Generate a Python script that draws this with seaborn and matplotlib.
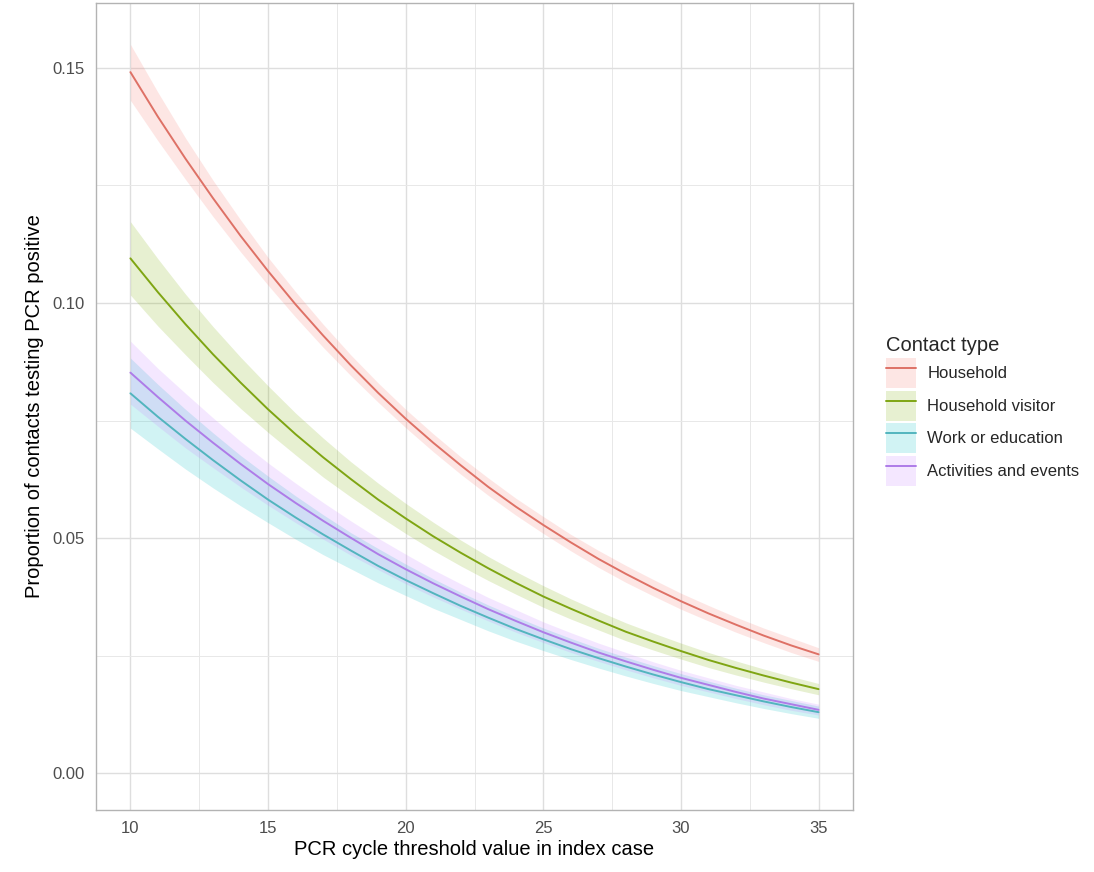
import pandas as pd
import seaborn as sns
import matplotlib.pyplot as plt
from matplotlib.patches import Patch
from matplotlib.lines import Line2D
from matplotlib.ticker import MultipleLocator

# PCR Ct value in index case
ct = list(range(10, 36))

contact_types = ["Household", "Household visitor", "Work or education", "Activities and events"]
fill_colors = ["#F8766D", "#7CAE00", "#00BFC4", "#C77CFF"]
line_colors = ["#DE7166", "#7FA513", "#52B5BE", "#AE7CE8"]

# fitted proportion and 95% band
household = [0.1491, 0.1396, 0.1307, 0.1223, 0.1143, 0.1068, 0.0997, 0.0931, 0.0868, 0.0809, 0.0754, 0.0703, 0.0655,
             0.0609, 0.0567, 0.0528, 0.0491, 0.0456, 0.0424, 0.0394, 0.0366, 0.0340, 0.0316, 0.0293, 0.0272, 0.0253]
household_lo = [0.1431, 0.1345, 0.1263, 0.1184, 0.1109, 0.1038, 0.0970, 0.0906, 0.0846, 0.0789, 0.0735, 0.0684, 0.0636,
                0.0591, 0.0549, 0.0510, 0.0473, 0.0438, 0.0406, 0.0377, 0.0349, 0.0324, 0.0300, 0.0278, 0.0257, 0.0238]
household_hi = [0.1550, 0.1448, 0.1351, 0.1261, 0.1177, 0.1097, 0.1024, 0.0955, 0.0890, 0.0830, 0.0774, 0.0722, 0.0673,
                0.0628, 0.0585, 0.0546, 0.0508, 0.0474, 0.0442, 0.0412, 0.0383, 0.0357, 0.0332, 0.0309, 0.0288, 0.0267]

visitor = [0.1095, 0.1023, 0.0955, 0.0891, 0.0831, 0.0774, 0.0721, 0.0672, 0.0626, 0.0582, 0.0542, 0.0504, 0.0469,
           0.0436, 0.0405, 0.0376, 0.0350, 0.0325, 0.0301, 0.0280, 0.0260, 0.0241, 0.0224, 0.0208, 0.0193, 0.0179]
visitor_lo = [0.1017, 0.0951, 0.0890, 0.0831, 0.0776, 0.0725, 0.0677, 0.0630, 0.0588, 0.0548, 0.0510, 0.0474, 0.0441,
              0.0410, 0.0381, 0.0353, 0.0328, 0.0305, 0.0282, 0.0262, 0.0243, 0.0225, 0.0209, 0.0194, 0.0180, 0.0167]
visitor_hi = [0.1173, 0.1094, 0.1019, 0.0950, 0.0885, 0.0824, 0.0766, 0.0713, 0.0663, 0.0617, 0.0574, 0.0534, 0.0496,
              0.0461, 0.0429, 0.0399, 0.0371, 0.0345, 0.0320, 0.0298, 0.0277, 0.0257, 0.0239, 0.0222, 0.0206, 0.0191]

work = [0.0808, 0.0758, 0.0711, 0.0666, 0.0623, 0.0582, 0.0544, 0.0508, 0.0474, 0.0441, 0.0411, 0.0383, 0.0356,
        0.0331, 0.0307, 0.0285, 0.0264, 0.0245, 0.0227, 0.0210, 0.0194, 0.0179, 0.0166, 0.0153, 0.0141, 0.0130]
work_lo = [0.0734, 0.0690, 0.0647, 0.0607, 0.0569, 0.0533, 0.0498, 0.0465, 0.0435, 0.0405, 0.0378, 0.0351, 0.0327,
           0.0303, 0.0281, 0.0261, 0.0242, 0.0224, 0.0207, 0.0191, 0.0176, 0.0163, 0.0150, 0.0138, 0.0127, 0.0117]
work_hi = [0.0883, 0.0827, 0.0774, 0.0724, 0.0676, 0.0632, 0.0590, 0.0550, 0.0512, 0.0478, 0.0445, 0.0414, 0.0385,
           0.0358, 0.0333, 0.0309, 0.0287, 0.0266, 0.0247, 0.0229, 0.0212, 0.0196, 0.0181, 0.0167, 0.0155, 0.0143]

events = [0.0852, 0.0800, 0.0750, 0.0703, 0.0658, 0.0615, 0.0575, 0.0537, 0.0501, 0.0466, 0.0434, 0.0404, 0.0376,
          0.0349, 0.0324, 0.0300, 0.0278, 0.0257, 0.0238, 0.0220, 0.0203, 0.0188, 0.0173, 0.0159, 0.0147, 0.0135]
events_lo = [0.0785, 0.0738, 0.0692, 0.0650, 0.0609, 0.0570, 0.0533, 0.0498, 0.0464, 0.0433, 0.0403, 0.0375, 0.0349,
             0.0324, 0.0300, 0.0278, 0.0257, 0.0238, 0.0220, 0.0203, 0.0187, 0.0173, 0.0159, 0.0146, 0.0134, 0.0124]
events_hi = [0.0919, 0.0861, 0.0808, 0.0756, 0.0706, 0.0660, 0.0617, 0.0576, 0.0537, 0.0500, 0.0466, 0.0433, 0.0403,
             0.0374, 0.0348, 0.0322, 0.0299, 0.0277, 0.0257, 0.0237, 0.0219, 0.0203, 0.0187, 0.0173, 0.0159, 0.0147]

mids = [household, visitor, work, events]
los = [household_lo, visitor_lo, work_lo, events_lo]
his = [household_hi, visitor_hi, work_hi, events_hi]

frames = []
for name, m, lo, hi in zip(contact_types, mids, los, his):
    frames.append(pd.DataFrame({"ct": ct, "prop": m, "lo": lo, "hi": hi, "contact": name}))
df = pd.concat(frames, ignore_index=True)

sns.set_style("white")
plt.rcParams["font.family"] = ["Liberation Sans", "DejaVu Sans"]

fig = plt.figure(figsize=(10.94, 8.72), dpi=100)
ax = fig.add_axes([96 / 1094, 1 - 810 / 872, (853 - 96) / 1094, (810 - 3) / 872])

fills = dict(zip(contact_types, fill_colors))
lines = dict(zip(contact_types, line_colors))
for name in contact_types:
    sub = df[df.contact == name]
    ax.fill_between(sub.ct, sub.lo, sub.hi, color=fills[name], alpha=0.18, lw=0, zorder=2)
sns.lineplot(data=df, x="ct", y="prop", hue="contact", palette=lines, ax=ax,
             legend=False, lw=1.4, zorder=3)

ax.set_xlim(8.75, 36.25)
ax.set_ylim(-0.0078, 0.1638)
ax.xaxis.set_major_locator(MultipleLocator(5))
ax.xaxis.set_minor_locator(MultipleLocator(2.5))
ax.yaxis.set_major_locator(MultipleLocator(0.05))
ax.yaxis.set_minor_locator(MultipleLocator(0.025))
ax.yaxis.set_major_formatter(plt.FuncFormatter(lambda v, p: f"{v:.2f}"))
ax.grid(which="major", color="#DEDEDE", lw=1.0, zorder=0)
ax.grid(which="minor", color="#E8E8E8", lw=0.7, zorder=0)
ax.set_axisbelow(True)
for s in ax.spines.values():
    s.set_color("#B3B3B3")
    s.set_linewidth(1.0)
ax.tick_params(which="major", length=4, color="#B3B3B3", width=1.0,
               labelsize=12, labelcolor="#4D4D4D", pad=4)
ax.tick_params(which="minor", length=0)
ax.set_xlabel("PCR cycle threshold value in index case", fontsize=14.5, color="black", labelpad=3)
ax.set_ylabel("Proportion of contacts testing PCR positive", fontsize=14.5, color="black", labelpad=6)

handles = [(Patch(facecolor=f, alpha=0.18, edgecolor="none"), Line2D([], [], color=c, lw=1.4))
           for f, c in zip(fill_colors, line_colors)]
leg = fig.legend(handles, contact_types, title="Contact type", loc="center left",
                 bbox_to_anchor=(879 / 1094, 1 - 411 / 872), frameon=False,
                 fontsize=12, title_fontsize=14.5, handlelength=1.8, handleheight=2.35,
                 handletextpad=0.7, labelspacing=0.18, alignment="left", borderaxespad=0)

fig.savefig("out.png", dpi=100)
